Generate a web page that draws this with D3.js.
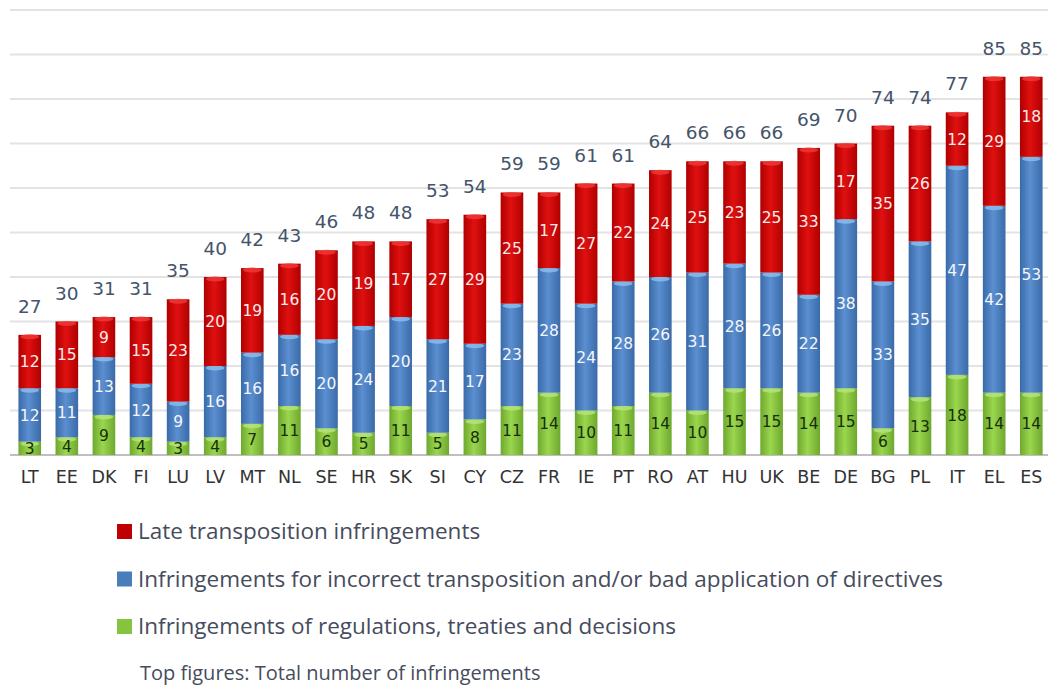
<!DOCTYPE html>
<html>
<head>
<meta charset="utf-8">
<script src="https://cdn.jsdelivr.net/npm/d3@7"></script>
<style>
  body { margin: 0; background: #fff; }
  svg { display: block; }
</style>
</head>
<body>
<div id="chart"></div>
<script>
// values
const countries = ["LT","EE","DK","FI","LU","LV","MT","NL","SE","HR","SK","SI","CY","CZ",
                   "FR","IE","PT","RO","AT","HU","UK","BE","DE","BG","PL","IT","EL","ES"];
const regulations = [3,4,9,4,3,4,7,11,6,5,11,5,8,11,14,10,11,14,10,15,15,14,15,6,13,18,14,14];
const incorrect   = [12,11,13,12,9,16,16,16,20,24,20,21,17,23,28,24,28,26,31,28,26,22,38,33,35,47,42,53];
const late        = [12,15,9,15,23,20,19,16,20,19,17,27,29,25,17,27,22,24,25,23,25,33,17,35,26,12,29,18];
const yTicks = [0,10,20,30,40,50,60,70,80,90,100];

const seriesNames = [
    "Late transposition infringements",
    "Infringements for incorrect transposition and/or bad application of directives",
    "Infringements of regulations, treaties and decisions"
];
const note = "Top figures: Total number of infringements";

const width = 1048,
      height = 687;

const svg = d3.select("#chart").append("svg")
    .attr("width", width)
    .attr("height", height);

const x = d3.scaleBand()
    .domain(countries)
    .range([11, 1050])
    .paddingInner(0.39)
    .paddingOuter(0.2);

const y = d3.scaleLinear()
    .domain([0, 100])
    .range([455, 10]);

// cylinder-ish shading for each series
const defs = svg.append("defs");
const shades = [
    {id: "g-reg",  edge: "#6ea82e", mid: "#9bd64e"},
    {id: "g-inc",  edge: "#3a6aa8", mid: "#5b8fd0"},
    {id: "g-late", edge: "#b00000", mid: "#e01010"}
];
shades.forEach(s => {
    const lg = defs.append("linearGradient").attr("id", s.id)
        .attr("x1", "0%").attr("x2", "100%").attr("y1", "0%").attr("y2", "0%");
    lg.append("stop").attr("offset", "0%").attr("stop-color", s.edge);
    lg.append("stop").attr("offset", "45%").attr("stop-color", s.mid);
    lg.append("stop").attr("offset", "100%").attr("stop-color", s.edge);
});

// gridlines
svg.append("g")
    .selectAll("line")
    .data(yTicks)
    .join("line")
      .attr("x1", 10)
      .attr("x2", width)
      .attr("y1", d => y(d))
      .attr("y2", d => y(d))
      .attr("stroke", d => d === 0 ? "#bfbfbf" : "#e3e3e3")
      .attr("stroke-width", 2);

const rows = countries.map((c, i) => ({
    country: c, reg: regulations[i], inc: incorrect[i], late: late[i],
    total: regulations[i] + incorrect[i] + late[i]
}));

const stack = d3.stack().keys(["reg", "inc", "late"]);
const layers = stack(rows);
const fills = {reg: "url(#g-reg)", inc: "url(#g-inc)", late: "url(#g-late)"};
const caps = {reg: "#b7e67a", inc: "#8cc0f0", late: "#f03a3a"};
const textColor = {reg: "#17300a", inc: "#f4f6fb", late: "#fbeaea"};

const layerG = svg.append("g")
    .selectAll("g")
    .data(layers)
    .join("g");

layerG.selectAll("rect.seg")
    .data(d => d.map(p => ({key: d.key, p: p})))
    .join("rect")
      .attr("class", "seg")
      .attr("x", d => x(d.p.data.country))
      .attr("width", x.bandwidth())
      .attr("y", d => y(d.p[1]))
      .attr("height", d => y(d.p[0]) - y(d.p[1]))
      .attr("fill", d => fills[d.key]);

// light cap on top of each segment
layerG.selectAll("ellipse.cap")
    .data(d => d.map(p => ({key: d.key, p: p})))
    .join("ellipse")
      .attr("class", "cap")
      .attr("cx", d => x(d.p.data.country) + x.bandwidth() / 2)
      .attr("cy", d => y(d.p[1]) + 2)
      .attr("rx", x.bandwidth() / 2 - 2)
      .attr("ry", 2.5)
      .attr("fill", d => caps[d.key])
      .attr("opacity", 0.8);

layerG.selectAll("text")
    .data(d => d.map(p => ({key: d.key, p: p})))
    .join("text")
      .attr("x", d => x(d.p.data.country) + x.bandwidth() / 2)
      .attr("y", d => (y(d.p[0]) + y(d.p[1])) / 2)
      .attr("dy", "0.36em")
      .attr("text-anchor", "middle")
      .attr("font-family", "DejaVu Sans, sans-serif")
      .attr("font-size", 15.5)
      .attr("fill", d => textColor[d.key])
      .text(d => d.p[1] - d.p[0]);

// totals on top
svg.append("g")
    .selectAll("text")
    .data(rows)
    .join("text")
      .attr("x", d => x(d.country) + x.bandwidth() / 2)
      .attr("y", d => y(d.total) - 22)
      .attr("text-anchor", "middle")
      .attr("font-family", "DejaVu Sans, sans-serif")
      .attr("font-size", 18.5)
      .attr("fill", "#44546a")
      .text(d => d.total);

// category axis
const xAxis = svg.append("g")
    .attr("transform", `translate(0,${y(0)})`)
    .call(d3.axisBottom(x).tickSize(0).tickPadding(16));
xAxis.select(".domain").remove();
xAxis.selectAll("text")
    .attr("font-family", "DejaVu Sans, sans-serif")
    .attr("font-size", 17.5)
    .attr("fill", "#333");

// legend
const legendColors = ["#c00000", "#4a7ebb", "#86c440"];
const legend = svg.append("g")
    .selectAll("g")
    .data(seriesNames)
    .join("g")
      .attr("transform", (d, i) => `translate(117,${531 + i * 47.5})`);
legend.append("rect")
    .attr("x", 0).attr("y", -7)
    .attr("width", 15).attr("height", 15)
    .attr("fill", (d, i) => legendColors[i]);
legend.append("text")
    .attr("x", 21)
    .attr("dy", "0.36em")
    .attr("font-family", "Open Sans, sans-serif")
    .attr("font-size", 22.5)
    .attr("fill", "#464c5c")
    .text(d => d);

svg.append("text")
    .attr("x", 140)
    .attr("y", 673)
    .attr("dy", "0.36em")
    .attr("font-family", "Open Sans, sans-serif")
    .attr("font-size", 20)
    .attr("fill", "#464c5c")
    .text(note);
</script>
</body>
</html>
